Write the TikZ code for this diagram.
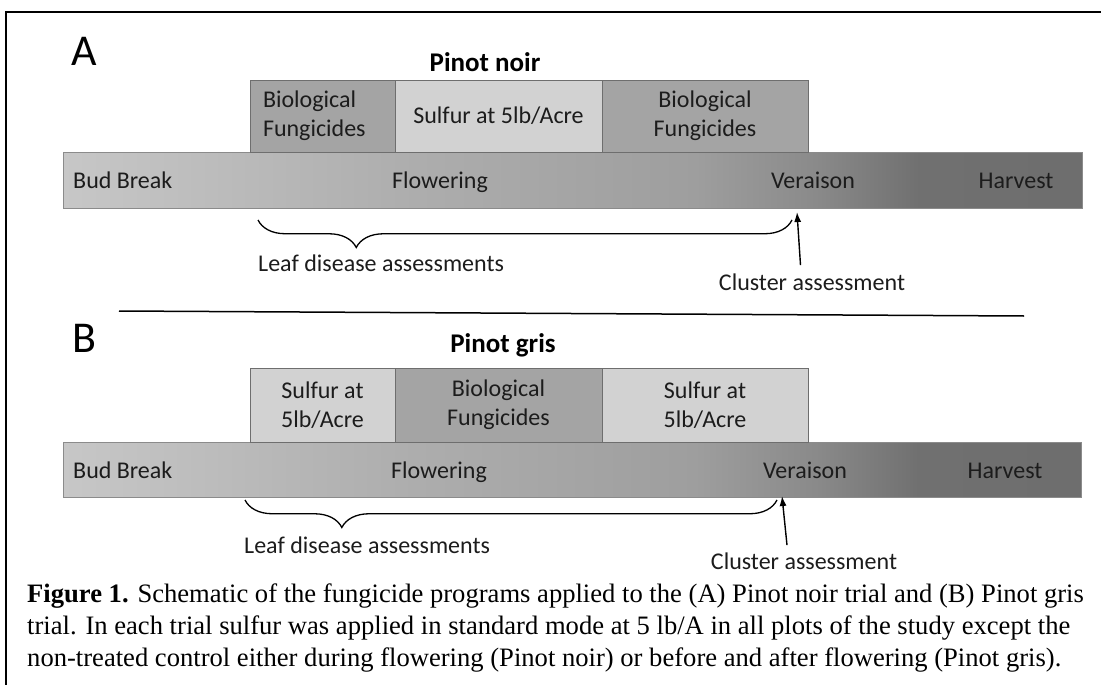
\documentclass[tikz,border=0pt]{standalone}
\usepackage{fontspec}
\setmainfont{Carlito}
\newfontfamily\capfont{Liberation Serif}
\usetikzlibrary{arrows.meta,positioning,decorations.pathreplacing}
\definecolor{bioGray}{RGB}{164,164,164}
\definecolor{sulfGray}{RGB}{210,210,210}
\definecolor{edgeGray}{RGB}{110,110,110}
\definecolor{inkGray}{RGB}{28,28,28}
% season bar: light at bud break, dark towards harvest
\pgfdeclarehorizontalshading{stageshade}{100bp}{
  color(0bp)=(black!22); color(25bp)=(black!22); color(42bp)=(black!32);
  color(56bp)=(black!38); color(62bp)=(black!46); color(67bp)=(black!56);
  color(75bp)=(black!57); color(100bp)=(black!57)}

\begin{document}
\begin{tikzpicture}[
  x=1pt, y=-1pt,
  font=\fontsize{24}{29}\selectfont,
  text=inkGray,
  prog/.style = {rectangle, draw=edgeGray, line width=0.9pt, align=center,
                 inner sep=0pt, outer sep=0pt},
  bio/.style  = {prog, fill=bioGray},
  sulf/.style = {prog, fill=sulfGray},
  stage/.style = {rectangle, draw=edgeGray!80, line width=0.8pt,
                  shading=stageshade, inner sep=0pt, outer sep=0pt},
  lbl/.style  = {inner sep=0pt},
  panel/.style = {inner sep=0pt, font=\fontsize{44}{44}\selectfont, text=black},
  ttl/.style  = {inner sep=0pt, font=\fontsize{27}{27}\selectfont\bfseries, text=black},
  arr/.style  = {-{Latex[length=10pt,width=7pt]}, line width=1.4pt, black},
  brc/.style  = {decorate, decoration={brace, mirror, amplitude=27.5pt, aspect=#1},
                 line width=1.3pt, black}
]
\useasboundingbox (0,0) rectangle (1101,685);

% frame
\draw[line width=1.5pt] (6,685) -- (6,12) -- (1101,12);

% Panel A: Pinot noir
\node[panel, anchor=base] (pA) at (84,66) {A};
\node[ttl, anchor=base] (ttlA) at (485,72) {Pinot noir};
\node[stage, minimum width=1019pt, minimum height=56pt, anchor=north west] (barA) at (63,152) {};
\node[bio, minimum width=145pt, minimum height=72pt, text width=119pt, align=left,
      anchor=south west] (bioA1) at (250,152) {Biological\\Fungicides};
\node[sulf, minimum width=207pt, minimum height=72pt, right=0pt of bioA1] (sulfA) {Sulfur at 5lb/Acre};
\node[bio, minimum width=206pt, minimum height=72pt, right=0pt of sulfA] (bioA2) {Biological\\Fungicides};

\node[lbl, anchor=base west] (budA) at (73,188) {Bud Break};
\node[lbl, anchor=base] (flwA) at (440,188) {Flowering};
\node[lbl, anchor=base] (verA) at (813,188) {Veraison};
\node[lbl, anchor=base] (harA) at (1016,188) {Harvest};

% assessments A
\coordinate (lfA0) at (258,220);
\coordinate (lfA1) at (792,220);
\draw[brc=0.184] (lfA0) -- (lfA1);
\node[lbl, anchor=base west] (leafA) at (258,271) {Leaf disease assessments};
\node[lbl, anchor=base] (clsA) at (812,290) {Cluster assessment};
\coordinate (tipA) at (797,212);
\draw[arr] ([xshift=-11.5pt,yshift=8pt]clsA.north) -- (tipA);

% separator
\draw[line width=1.5pt] (119,311) -- (1024,316);

% Panel B: Pinot gris
\node[panel, anchor=base] (pB) at (84,352) {B};
\node[ttl, anchor=base] (ttlB) at (503,352) {Pinot gris};
\node[stage, minimum width=1018pt, minimum height=55pt, anchor=north west] (barB) at (63,442) {};
\node[sulf, minimum width=145pt, minimum height=74pt, anchor=south west] (sulfB1) at (250,442) {Sulfur at\\5lb/Acre};
\node[bio, minimum width=207pt, minimum height=74pt, right=0pt of sulfB1] (bioB) {Biological\\Fungicides};
\node[sulf, minimum width=206pt, minimum height=74pt, right=0pt of bioB] (sulfB2) {Sulfur at\\5lb/Acre};

\node[lbl, anchor=base west] (budB) at (73,478) {Bud Break};
\node[lbl, anchor=base] (flwB) at (439,478) {Flowering};
\node[lbl, anchor=base] (verB) at (805,478) {Veraison};
\node[lbl, anchor=base] (harB) at (1005,478) {Harvest};

% assessments B
\coordinate (lfB0) at (245,500);
\coordinate (lfB1) at (777,500);
\draw[brc=0.182] (lfB0) -- (lfB1);
\node[lbl, anchor=base west] (leafB) at (244,553) {Leaf disease assessments};
\node[lbl, anchor=base] (clsB) at (804,569) {Cluster assessment};
\coordinate (tipB) at (782,496);
\draw[arr] ([xshift=-17pt,yshift=7pt]clsB.north) -- (tipB);

% caption (base anchor sits on the last line)
\node[anchor=base west, inner sep=0pt, align=left, text=black,
      font=\capfont\fontsize{26.6}{32}\selectfont] (cap) at (27,666)
  {\textbf{Figure 1.} Schematic of the fungicide programs applied to the (A) Pinot noir trial and (B) Pinot gris\\
   trial. In each trial sulfur was applied in standard mode at 5 lb/A in all plots of the study except the\\
   non-treated control either during flowering (Pinot noir) or before and after flowering (Pinot gris).};
\end{tikzpicture}
\end{document}
